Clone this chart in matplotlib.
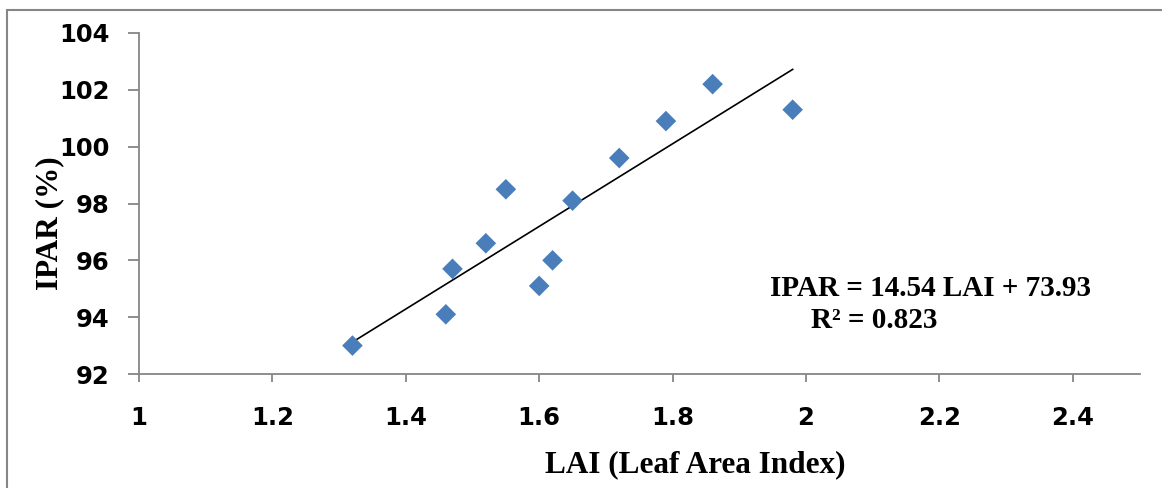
import matplotlib
matplotlib.use("Agg")
import matplotlib.pyplot as plt
from matplotlib.patches import Rectangle

lai = [1.32, 1.46, 1.47, 1.52, 1.55, 1.60, 1.62, 1.65, 1.72, 1.79, 1.86, 1.98]
ipar = [93.0, 94.1, 95.7, 96.6, 98.5, 95.1, 96.0, 98.1, 99.6, 100.9, 102.2, 101.3]
slope = 14.54
intercept = 73.93
r2 = 0.823
xticks = [1, 1.2, 1.4, 1.6, 1.8, 2, 2.2, 2.4]
xticklabels = ["1", "1.2", "1.4", "1.6", "1.8", "2", "2.2", "2.4"]
yticks = [92, 94, 96, 98, 100, 102, 104]

W, H = 1162, 488
fig = plt.figure(figsize=(W / 100, H / 100), dpi=100)
ax = fig.add_axes([139 / W, 1 - 374 / H, (1139.5 - 139) / W, (374 - 33) / H])

ax.scatter(lai, ipar, marker="D", s=10.5 ** 2, color="#4A7EBB", edgecolors="none", zorder=3)
x0, x1 = min(lai), max(lai)
ax.plot([x0, x1], [slope * x0 + intercept, slope * x1 + intercept], color="black", lw=1.2, zorder=2)

ax.set_xlim(1, 2.5)
ax.set_ylim(92, 104)
ax.set_xticks(xticks)
ax.set_xticklabels(xticklabels)
ax.set_yticks(yticks)

gray = "#868686"
for s in ["top", "right"]:
    ax.spines[s].set_visible(False)
for s in ["left", "bottom"]:
    ax.spines[s].set_color(gray)
    ax.spines[s].set_linewidth(1.3)
ax.tick_params(axis="x", direction="out", length=6, width=1.3, color=gray, pad=17)
ax.tick_params(axis="y", direction="out", length=8, width=1.3, color=gray, pad=13)
for lab in ax.get_xticklabels() + ax.get_yticklabels():
    lab.set_fontfamily("DejaVu Sans")
    lab.set_fontweight("bold")
    lab.set_fontsize(17.5)

serif = "Liberation Serif"
fig.text(695 / W, 1 - 465 / H, "LAI (Leaf Area Index)", ha="center", va="center",
         fontfamily=serif, fontweight="bold", fontsize=22.5)
fig.text(50 / W, 1 - 223 / H, "IPAR (%)", ha="center", va="center", rotation=90,
         fontfamily=serif, fontweight="bold", fontsize=22.5)
fig.text(930 / W, 1 - 288 / H, f"IPAR = {slope} LAI + {intercept}", ha="center", va="center",
         fontfamily=serif, fontweight="bold", fontsize=21)
fig.text(874 / W, 1 - 320 / H, f"R² = {r2}", ha="center", va="center",
         fontfamily=serif, fontweight="bold", fontsize=21)

fig.patches.append(Rectangle((7 / W, -0.1), 1.2, 1 - 10 / H + 0.1, transform=fig.transFigure,
                             fill=False, edgecolor=gray, lw=1.5))

fig.savefig("out.png", dpi=100)
